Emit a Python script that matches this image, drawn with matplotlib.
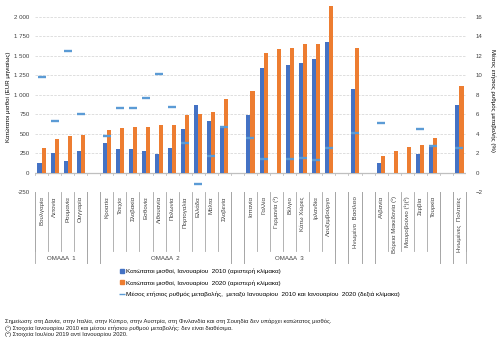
import matplotlib

matplotlib.use("Agg")
import matplotlib.pyplot as plt  # noqa: E402
import numpy as np  # noqa: E402
from matplotlib.lines import Line2D  # noqa: E402

plt.rcParams["font.family"] = ["Liberation Sans", "DejaVu Sans"]

nan = np.nan

# groups along the x axis (one empty slot between groups)
group_names = ["ΟΜΑΔΑ  1", "ΟΜΑΔΑ  2", "ΟΜΑΔΑ  3", "", "", ""]
group_sizes = [4, 10, 7, 1, 5, 1]

countries = [
    "Βουλγαρία", "Λετονία", "Ρουμανία", "Ουγγαρία",
    "Κροατία", "Τσεχία", "Σλοβακία", "Εσθονία", "Λιθουανία", "Πολωνία",
    "Πορτογαλία", "Ελλάδα", "Μάλτα", "Σλοβενία",
    "Ισπανία", "Γαλλία", "Γερμανία (¹)", "Βέλγιο", "Κάτω Χώρες", "Ιρλανδία",
    "Λουξεμβούργο",
    "Ηνωμένο  Βασίλειο",
    "Αλβανία", "Βόρεια Μακεδονία (¹)", "Μαυροβούνιο (¹)(²)", "Σερβία", "Τουρκία",
    "Ηνωμένες  Πολιτείες",
]
wage_2010 = [123, 254, 142, 272,
             385, 302, 308, 278, 232, 321, 554, 863, 660, 597,
             739, 1344, nan, 1387, 1408, 1462, 1683,
             1076,
             128, nan, nan, 235, 340,
             869]
wage_2020 = [312, 430, 466, 487,
             546, 575, 580, 584, 607, 611, 741, 758, 777, 941,
             1050, 1539, 1584, 1594, 1650, 1656, 2142,
             1596,
             213, 282, 334, 349, 448,
             1117]
rate = [9.8, 5.3, 12.5, 6.0,
        3.8, 6.6, 6.6, 7.7, 10.1, 6.7, 3.0, -1.2, 1.7, 4.7,
        3.6, 1.4, nan, 1.4, 1.5, 1.3, 2.5,
        4.1,
        5.1, nan, nan, 4.5, 2.7,
        2.5]

left_ticks = [-250, 0, 250, 500, 750, 1000, 1250, 1500, 1750, 2000]
right_ticks = [-2, 0, 2, 4, 6, 8, 10, 12, 14, 16]

BLUE = "#4472C4"
ORANGE = "#ED7D31"
LBLUE = "#5B9BD5"
GRID = "#d9d9d9"
SEP = "#a6a6a6"
TXT = "#404040"
FS = 4.4

# slot positions
pos = []
bounds = []
slot = 0
for size in group_sizes:
    bounds.append((slot - 0.5, slot + size - 0.5))
    pos.extend(range(slot, slot + size))
    slot += size + 1
n_slots = slot - 1
pos = np.array(pos, dtype=float)

fig = plt.figure(figsize=(5, 3.37), dpi=100)
ax = fig.add_axes([35 / 500, 1 - 192 / 337, 431 / 500, 187.6 / 337])
ax2 = ax.twinx()

ymax = 2160
ax.set_ylim(-250, ymax)
ax2.set_ylim(-2, ymax / 125)
ax.set_xlim(-0.5, n_slots - 0.5)

for v in left_ticks[2:]:
    ax.axhline(v, color=GRID, lw=0.6, ls=(0, (3, 1.5)), zorder=0)
ax.axhline(0, color="#bfbfbf", lw=0.9, zorder=1)

w = 0.31
ax.bar(pos - w / 2, wage_2010, width=w, color=BLUE, zorder=2)
ax.bar(pos + w / 2, wage_2020, width=w, color=ORANGE, zorder=2)
ax2.plot(pos, rate, ls="none", marker="_", markersize=6.0, mew=1.7, color=LBLUE, zorder=3)

for s in list(ax.spines.values()) + list(ax2.spines.values()):
    s.set_visible(False)

ax.set_yticks(left_ticks)
ax.set_yticklabels([f"{v:,}".replace(",", " ") for v in left_ticks])
ax2.set_yticks(right_ticks)
ax.tick_params(axis="y", length=0, pad=4, labelsize=FS, labelcolor=TXT)
ax2.tick_params(axis="y", length=0, pad=7, labelsize=FS, labelcolor=TXT)

ax.set_xticks(pos)
ax.set_xticklabels(countries, rotation=90, va="top", ha="center")
ax.tick_params(axis="x", length=0, pad=3, labelsize=FS, labelcolor=TXT)

ax.set_ylabel("Κατώτατοι μισθοί (EUR μηνιαίως)", fontsize=FS, color="#000000",
              va="center")
ax.yaxis.set_label_coords(-0.062, 0.51)
ax2.set_ylabel("Μέσος ετήσιος ρυθμός μεταβολής (%)", fontsize=FS, color="#000000",
               rotation=270, va="center")
ax2.yaxis.set_label_coords(1.062, 0.49)

trans = ax.get_xaxis_transform()
# small ticks on the zero line and category separators below the plot
edges = np.arange(-0.5, n_slots, 1.0)
for e in edges:
    ax.plot([e, e], [0, -30], color="#bfbfbf", lw=0.6, zorder=1)
    ax.plot([e, e], [0, -0.315], transform=trans, color=SEP, lw=0.6, clip_on=False)
for (a, b), name in zip(bounds, group_names):
    for e in (a - 1, a, b, b + 1):
        if -0.5 <= e <= n_slots - 0.5:
            ax.plot([e, e], [0, -0.38], transform=trans, color=SEP, lw=0.6, clip_on=False)
    if name:
        ax.text((a + b) / 2, -0.357, name, transform=trans, ha="center", va="center",
                fontsize=FS, color=TXT)

handles = [
    Line2D([], [], ls="none", marker="s", markersize=2.2, color=BLUE),
    Line2D([], [], ls="none", marker="s", markersize=2.2, color=ORANGE),
    Line2D([], [], ls="none", marker="_", markersize=4, mew=1.0, color=LBLUE),
]
labels = [
    "Κατώτατοι μισθοί, Ιανουαρίου  2010 (αριστερή κλίμακα)",
    "Κατώτατοι μισθοί, Ιανουαρίου  2020 (αριστερή κλίμακα)",
    "Μέσος ετήσιος ρυθμός μεταβολής,  μεταξύ Ιανουαρίου  2010 και Ιανουαρίου  2020 (δεξιά κλίμακα)",
]
fig.legend(handles, labels, loc="upper left", bbox_to_anchor=(120 / 500, 1 - 268.5 / 337),
           frameon=False, fontsize=4.6, handlelength=0.6, handletextpad=0.3,
           labelspacing=0.95, borderpad=0, borderaxespad=0)

notes = [
    "Σημείωση: στη Δανία, στην Ιταλία, στην Κύπρο, στην Αυστρία, στη Φινλανδία και στη Σουηδία "
    "δεν υπάρχει κατώτατος μισθός.",
    "(¹) Στοιχεία Ιανουαρίου 2010 και μέσου ετήσιου ρυθμού μεταβολής: δεν είναι διαθέσιμα.",
    "(²) Στοιχεία Ιουλίου 2019 αντί Ιανουαρίου 2020.",
]
for i, t in enumerate(notes):
    fig.text(5 / 500, 1 - (321 + 6.8 * i) / 337, t, fontsize=4.25, color="#202020", va="center")

fig.savefig("out.png", dpi=100)
